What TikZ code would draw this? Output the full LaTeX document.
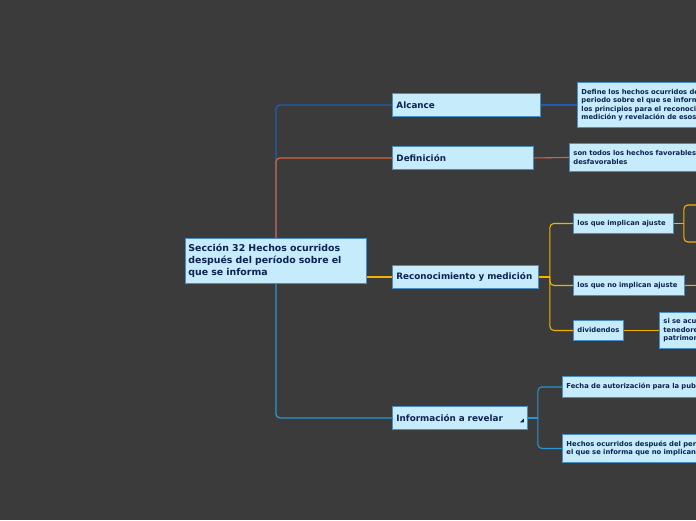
\documentclass[tikz,border=0pt]{standalone}
\usepackage{fontspec}
\setmainfont{DejaVu Sans}
\usetikzlibrary{calc}

\definecolor{bgdark}{HTML}{3B3B3B}
\definecolor{boxfill}{HTML}{C6EBFB}
\definecolor{boxline}{HTML}{4A8CC4}
\definecolor{navytext}{HTML}{0D2350}
\definecolor{alcblue}{HTML}{1A5FB4}
\definecolor{defred}{HTML}{D9603B}
\definecolor{recgold}{HTML}{F2B400}
\definecolor{infoblue}{HTML}{2A95D5}

\begin{document}
\begin{tikzpicture}[
	x=1pt, y=-1pt,
	every node/.style={font=\bfseries, text=navytext},
	topic/.style={rectangle, draw=boxline, fill=boxfill, line width=0.9pt, anchor=north west, align=left, inner xsep=3pt, inner ysep=0pt},
	root/.style={topic, font=\fontsize{9.4}{12}\selectfont\bfseries, text width=175pt, minimum height=45pt},
	branch/.style={topic, font=\fontsize{8.8}{10}\selectfont\bfseries, inner xsep=4pt, minimum height=23pt},
	leaf/.style={topic, font=\fontsize{6.8}{8.4}\selectfont\bfseries, inner xsep=4pt},
	link/.style={line width=1.3pt, rounded corners=4pt},
	sublink/.style={line width=1.1pt, rounded corners=4pt}
]

% background and frame
\fill[bgdark] (0,0) rectangle (696,520);
\useasboundingbox (0,0) rectangle (696,520);
\clip (0,0) rectangle (696,520);

% central topic
\node[root] (root) at (185,238) {Sección 32 Hechos ocurridos\\después del período sobre el\\que se informa};

% main branches
\node[branch, text width=140pt] (alc) at (392,93) {Alcance};
\node[branch, text width=133pt] (def) at (392,146) {Definición};
\node[branch, text width=138pt] (rec) at (392,265) {Reconocimiento y medición};
\node[branch, text width=127pt] (info) at (392,406) {Información a revelar};
\fill[navytext] ($(info.east)+(-4,0.5)$) -- ($(info.east)+(-4,4.5)$) -- ($(info.east)+(-8,4.5)$) -- cycle;

% branch connectors
\draw[link, alcblue] (root.north) |- (alc.west);
\draw[link, defred] (root.north) |- (def.west);
\draw[link, recgold] (root.east |- rec.west) -- (rec.west);
\draw[link, infoblue] (root.south) |- (info.west);

% Alcance and Definicion
\node[leaf, text width=200pt, minimum height=45pt] (alcdef) at (577,82) {Define los hechos ocurridos después del\\periodo sobre el que se informa y establece\\los principios para el reconocimiento,\\medición y revelación de esos hechos};
\node[leaf, text width=200pt, minimum height=28pt] (defson) at (569,143) {son todos los hechos favorables o\\desfavorables};
\draw[sublink, alcblue] (alc.east) -- (alcdef.west);
\draw[sublink, defred] (def.east) -- (defson.west);

% Reconocimiento y medicion
\node[leaf, text width=92pt, minimum height=20pt] (ajuste) at (573,213) {los que implican ajuste};
\node[leaf, text width=103pt, minimum height=20pt] (noajuste) at (573,275) {los que no implican ajuste};
\node[leaf, text width=42pt, minimum height=20pt] (divid) at (573,320) {dividendos};
\node[leaf, text width=150pt, minimum height=36pt] (sidiv) at (659,312) {si se acuerdan dividendos a los\\tenedores de instrumentos de\\patrimonio después del periodo};
\coordinate (recj) at ($(rec.east)+(11,0)$);
\draw[sublink, recgold] (rec.east) -- (recj);
\foreach \n in {ajuste, noajuste, divid}
	\draw[sublink, recgold] (recj) |- (\n.west);
\coordinate (ajj) at ($(ajuste.east)+(10,0)$);
\coordinate (ajup) at (720,205);
\coordinate (ajdown) at (720,242);
\coordinate (noajend) at (720,285);
\draw[sublink, recgold] (ajuste.east) -- (ajj);
\draw[sublink, recgold] (ajj) |- (ajup);
\draw[sublink, recgold] (ajj) |- (ajdown);
\draw[sublink, recgold] (noajuste.east) -- (noajend);
\draw[sublink, recgold] (divid.east) -- (sidiv.west);

% Informacion a revelar
\node[leaf, text width=200pt, minimum height=21pt] (fecha) at (562,376) {Fecha de autorización para la publicación};
\node[leaf, text width=200pt, minimum height=28pt] (hechos) at (562,434) {Hechos ocurridos después del periodo sobre\\el que se informa que no implican ajustes};
\coordinate (infoj) at ($(info.east)+(10,0)$);
\draw[sublink, infoblue] (info.east) -- (infoj);
\draw[sublink, infoblue] (infoj) |- (fecha.west);
\draw[sublink, infoblue] (infoj) |- (hechos.west);

\end{tikzpicture}
\end{document}
